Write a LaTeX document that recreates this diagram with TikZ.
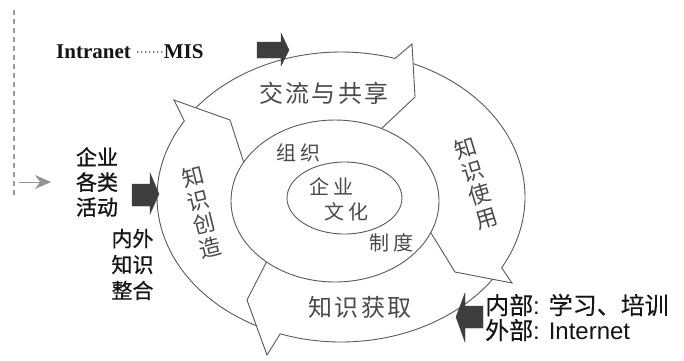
\documentclass[tikz,border=0pt]{standalone}
\usepackage{fontspec}
\usetikzlibrary{calc,intersections,arrows.meta}
\newfontfamily\cjk{Noto Sans CJK SC}
\newfontfamily\cjksp[LetterSpace=10]{Noto Sans CJK SC}
\newfontfamily\cjkwide[LetterSpace=20]{Noto Sans CJK SC}
\newfontfamily\cjkbold[FakeBold=1.2]{Noto Sans CJK SC}
\newfontfamily\cjkmed[FakeBold=0.5]{Noto Sans CJK SC}
\newfontfamily\cjklt[FakeBold=0.25]{Noto Sans CJK SC}
\newfontfamily\lsans{Liberation Sans}
\newfontfamily\lserif{Liberation Serif}
\definecolor{ringc}{HTML}{5A5A5A}
\definecolor{txtc}{HTML}{4A4A4A}
\definecolor{blkc}{HTML}{3E3E3E}
\definecolor{inkc}{HTML}{151515}
\begin{document}
\begin{tikzpicture}[x=1pt,y=-1pt,
  ring/.style={draw=ringc,line width=0.9pt,line join=miter},
  ringtxt/.style={text=txtc,inner sep=0pt},
  blockarrow/.style={fill=blkc,draw=blkc,line width=0.4pt},
  ink/.style={text=inkc,inner sep=0pt}]
\useasboundingbox (0,0) rectangle (684,360);
\fill[white] (0,0) rectangle (684,360);

% centres
\coordinate (O) at (341,197);
\coordinate (M) at (335,201);
\coordinate (I) at (344.5,198);

% middle and inner ellipses
\draw[ring,name path=mid] (M) ellipse[x radius=104,y radius=81];
\draw[ring] (I) ellipse[x radius=57.5,y radius=36];

% chevron points
\coordinate (Bt) at (412,44);  \coordinate (Tt) at (415,97);  \coordinate (Ct0) at (381,129);
\coordinate (Br) at (512,283); \coordinate (Tr) at (455,272); \coordinate (Cr0) at (431,233);
\coordinate (Bb) at (267,355); \coordinate (Tb) at (247,300); \coordinate (Cb0) at (267,261);
\coordinate (Bl) at (174,100); \coordinate (Tl) at (230,120); \coordinate (Cl0) at (243,160);

\path[name path=lt] (Tt) -- ($(Tt)!1.6!(Ct0)$);
\path[name path=lr] (Tr) -- ($(Tr)!1.6!(Cr0)$);
\path[name path=lb] (Tb) -- ($(Tb)!1.6!(Cb0)$);
\path[name path=ll] (Tl) -- ($(Tl)!1.6!(Cl0)$);
\path[name intersections={of=mid and lt, by=Ct}];
\path[name intersections={of=mid and lr, by=Cr}];
\path[name intersections={of=mid and lb, by=Cb}];
\path[name intersections={of=mid and ll, by=Cl}];

% outer ring segments (curved chevron arrows)
\draw[ring] plot[domain=-142.04:-72.9,samples=70,variable=\t] ({341+184*cos(\t)},{197+145*sin(\t)}) -- (Bt) -- (Tt) -- (Ct);
\draw[ring] plot[domain=-66.9:29.2,samples=70,variable=\t] ({341+184*cos(\t)},{197+145*sin(\t)}) -- (Br) -- (Tr) -- (Cr);
\draw[ring] plot[domain=34.56:109.3,samples=70,variable=\t] ({341+184*cos(\t)},{197+145*sin(\t)}) -- (Bb) -- (Tb) -- (Cb);
\draw[ring] plot[domain=117.36:211.6,samples=70,variable=\t] ({341+184*cos(\t)},{197+145*sin(\t)}) -- (Bl) -- (Tl) -- (Cl);

% ring labels
\node[ringtxt,font=\cjksp\fontsize{24}{24}\selectfont] (share) at (324,93) {交流与共享};
\node[ringtxt,font=\cjksp\fontsize{24}{24}\selectfont] (acq) at (360,307) {知识获取};
\node[ringtxt,rotate=17,align=center,font=\cjk\fontsize{22}{24.4}\selectfont] (use) at (476,183) {知\\识\\使\\用};
\node[ringtxt,rotate=14,align=center,font=\cjk\fontsize{22}{24.4}\selectfont] (create) at (201.5,212) {知\\识\\创\\造};
\node[ringtxt,font=\cjkwide\fontsize{20}{20}\selectfont] (org) at (298,153) {组织};
\node[ringtxt,font=\cjkwide\fontsize{20}{20}\selectfont] (qiye) at (331,187) {企业};
\node[ringtxt,font=\cjkwide\fontsize{20}{20}\selectfont] (wenhua) at (346,212) {文化};
\node[ringtxt,font=\cjkwide\fontsize{20}{20}\selectfont] (zhidu) at (391,243) {制度};

% outside labels
\node[ink,align=center,font=\cjkbold\fontsize{21}{25}\selectfont] (act) at (97,182) {企业\\各类\\活动};
\node[ink,align=center,font=\cjkmed\fontsize{21}{26}\selectfont] (integ) at (132.5,264.5) {内外\\知识\\整合};
\node[ink,anchor=west,align=left,font=\fontsize{24}{25}\selectfont] (src) at (485,317.5)
  {{\cjklt 内部}{\lsans: }{\cjklt 学习、培训}\\{\cjklt 外部}{\lsans: Internet}};
\node[ink,anchor=base west,font=\lserif\bfseries\fontsize{21}{21}\selectfont] (intra) at (56,58)
  {Intranet\hspace{5pt}{\mdseries\fontsize{12}{12}\selectfont\raisebox{1.5pt}{·······}}MIS};

% dark block arrows
\fill[blockarrow] (257,42) -- (281,42) -- (281,33) -- (289,50) -- (281,66) -- (281,58) -- (257,58) -- cycle;
\fill[blockarrow] (132,184) -- (150,184) -- (150,173) -- (159,194) -- (150,214) -- (150,206) -- (132,206) -- cycle;
\fill[blockarrow] (483,306) -- (465,306) -- (465,293) -- (456,317) -- (465,342) -- (465,328) -- (483,328) -- cycle;

% dashed boundary and small gray arrow
\coordinate (d1) at (14,10);
\coordinate (d2) at (14,197);
\draw[draw=gray!80,line width=1.2pt,dash pattern=on 5pt off 4pt] (d1) -- (d2);
\coordinate (ga) at (19,182);
\coordinate (gb) at (51,182);
\draw[draw=gray!85,line width=0.8pt,-{Stealth[length=16pt,width=14pt,fill=gray!85]}] (ga) -- (gb);
\end{tikzpicture}
\end{document}
